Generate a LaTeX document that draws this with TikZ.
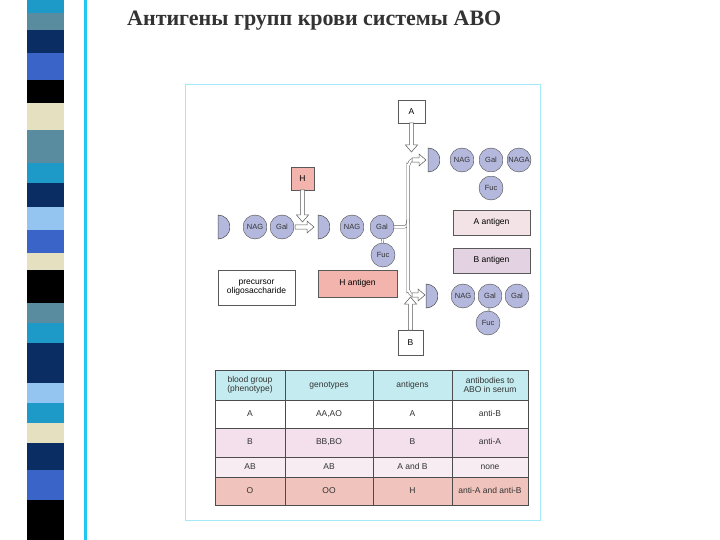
\documentclass[tikz,border=0pt]{standalone}
\usepackage{fontspec}
\setmainfont{Liberation Serif}
\newfontfamily\lsans{Liberation Sans}
\definecolor{cyanline}{HTML}{1EC8F0}
\definecolor{sug}{HTML}{B4B8DC}
\definecolor{salm}{HTML}{F2B4AC}
\definecolor{apink}{HTML}{F3E2E6}
\definecolor{blil}{HTML}{E2D2E2}
\definecolor{hdr}{HTML}{C4ECF0}
\definecolor{rowb}{HTML}{F4E0EC}
\definecolor{rowab}{HTML}{F6ECF2}
\definecolor{rowo}{HTML}{F0C4BC}
\definecolor{sA}{HTML}{1E9AC8}\definecolor{sG}{HTML}{5A8CA0}\definecolor{sN}{HTML}{0A2E64}
\definecolor{sB}{HTML}{3A64C8}\definecolor{sK}{HTML}{000000}\definecolor{sY}{HTML}{E4E0C0}
\definecolor{sL}{HTML}{94C4F0}
\newcommand\harr[3]{\draw[gray!70!black,fill=white,line width=0.5pt] (#1,#3-2.2) -- (#2-7,#3-2.2) -- (#2-7,#3-6) -- (#2,#3) -- (#2-7,#3+6) -- (#2-7,#3+2.2) -- (#1,#3+2.2) -- cycle;}
\newcommand\varr[3]{\draw[gray!70!black,fill=white,line width=0.5pt] (#3-2.2,#1) -- (#3-2.2,#2-7) -- (#3-6,#2-7) -- (#3,#2) -- (#3+6,#2-7) -- (#3+2.2,#2-7) -- (#3+2.2,#1) -- cycle;}
\newcommand\varrup[3]{\draw[gray!70!black,fill=white,line width=0.5pt] (#3-2.2,#1) -- (#3-2.2,#2+7) -- (#3-6,#2+7) -- (#3,#2) -- (#3+6,#2+7) -- (#3+2.2,#2+7) -- (#3+2.2,#1) -- cycle;}
\newcommand\half[3]{\draw[gray!60!black,fill=sug,line width=0.5pt] (#1,#2-#3) arc[start angle=-90,end angle=90,radius=#3] -- cycle;}
\begin{document}
\begin{tikzpicture}[x=1pt,y=-1pt,
 sugar/.style={circle,draw=gray!60!black,fill=sug,minimum size=24pt,inner sep=0pt,font=\lsans\fontsize{7.5}{7.5}\selectfont,text=black!80},
 box/.style={draw=gray!70!black,line width=0.5pt,font=\lsans\fontsize{8.5}{9.5}\selectfont,align=center,inner sep=0pt},
 bond/.style={draw=gray!60!black,double=white,double distance=1.2pt,line width=0.4pt},
 cell/.style={font=\lsans\fontsize{8.5}{9.5}\selectfont,align=center,text=black!80,text height=6.2pt,text depth=1.8pt,inner sep=0pt}]
\useasboundingbox (0,0) rectangle (720,540);
\fill[white] (0,0) rectangle (720,540);
% stripes
\foreach \a/\b/\c in {0/13/sA,13/30/sG,30/53/sN,53/80/sB,80/103/sK,103/130/sY,130/163/sG,163/183/sA,183/207/sN,207/230/sL,230/253/sB,253/270/sY,270/303/sK,303/323/sG,323/343/sA,343/383/sN,383/403/sL,403/423/sA,423/443/sY,443/470/sN,470/500/sB,500/540/sK}
  \fill[\c] (27,\a) rectangle (64,\b);
\fill[cyanline] (84,0) rectangle (87,540);
\node[font=\bfseries\fontsize{22}{24}\selectfont,text=black!80,anchor=west,inner sep=0pt] (title) at (127,21) {Антигены групп крови системы АВО};
% panel
\fill[white] (185,85) rectangle (540,520);
\draw[cyanline!40,line width=1pt] (185,85) rectangle (540,520);
% boxes
\node[box,minimum width=27pt,minimum height=23pt,fill=white] (Abox) at (411.5,111.5) {A};
\node[box,minimum width=25pt,minimum height=25pt,fill=white] (Bbox) at (410.5,342.5) {B};
\node[box,minimum width=23pt,minimum height=23pt,fill=salm] (Hbox) at (302.5,178.5) {H};
\node[box,minimum width=77pt,minimum height=35pt,fill=white] (prec) at (256.5,287.5) {precursor\\oligosaccharide};
\node[box,minimum width=79pt,minimum height=27pt,fill=salm] (hag) at (357.5,283.5) {H antigen};
\node[box,minimum width=77pt,minimum height=25pt,fill=apink] (aag) at (491.5,222.5) {A antigen};
\node[box,minimum width=77pt,minimum height=25pt,fill=blil] (bag) at (491.5,260.5) {B antigen};
% vertical trunk
\draw[gray!70!black,double=white,double distance=2pt,line width=0.5pt] (394,227) -- (404,227) to[out=0,in=-90] (408,220) -- (408,166) to[out=-90,in=180] (412,160) -- (414,160);
\draw[gray!70!black,double=white,double distance=2pt,line width=0.5pt] (408,220) -- (408,290) to[out=90,in=180] (412,295) -- (414,295);
% arrows
\varr{123}{152}{411.5}
\harr{412}{426}{160}
\varrup{330}{297}{410.5}
\harr{412}{425}{295}
\varr{190}{222}{302.5}
\harr{295}{314}{227}
% left chain
\half{218}{227}{12}
\node[sugar] (n1) at (255,227) {NAG};
\node[sugar] (g1) at (282,227) {Gal};
\draw[bond] (230,227) -- (n1); \draw[bond] (n1) -- (g1);
% middle chain
\half{318}{227}{12}
\node[sugar] (n2) at (352,227) {NAG};
\node[sugar] (g2) at (382,227) {Gal};
\node[sugar] (f2) at (383,255) {Fuc};
\draw[bond] (330,227) -- (n2); \draw[bond] (n2) -- (g2); \draw[bond] (g2) -- (f2);
% top chain
\half{428}{160}{12}
\node[sugar] (n3) at (462,160) {NAG};
\node[sugar] (g3) at (491,160) {Gal};
\node[sugar] (a3) at (519,160) {NAGA};
\node[sugar] (f3) at (491,188) {Fuc};
\draw[bond] (440,160) -- (n3); \draw[bond] (n3) -- (g3); \draw[bond] (g3) -- (a3); \draw[bond] (g3) -- (f3);
% bottom chain
\half{426}{296}{12}
\node[sugar] (n4) at (463,296) {NAG};
\node[sugar] (g4) at (490,296) {Gal};
\node[sugar] (h4) at (517,296) {Gal};
\node[sugar] (f4) at (488,323) {Fuc};
\draw[bond] (438,296) -- (n4); \draw[bond] (n4) -- (g4); \draw[bond] (g4) -- (h4); \draw[bond] (g4) -- (f4);
% table
\fill[hdr] (215,370) rectangle (528,400);
\fill[white] (215,400) rectangle (528,428);
\fill[rowb] (215,428) rectangle (528,457);
\fill[rowab] (215,457) rectangle (528,477);
\fill[rowo] (215,477) rectangle (528,505);
\draw[gray!60!black,line width=0.6pt] (215,370) rectangle (528,505);
\foreach \y in {400,428,457,477} \draw[gray!60!black,line width=0.5pt] (215,\y) -- (528,\y);
\foreach \x in {285,373,452} \draw[gray!60!black,line width=0.5pt] (\x,370) -- (\x,505);
\node[cell,text height=,text depth=] (h1) at (250,385) {blood group\\(phenotype)};
\node[cell] (h2) at (329,385) {genotypes};
\node[cell] (h3) at (412.5,385) {antigens};
\node[cell,text height=,text depth=] (h4) at (490,385) {antibodies to\\ABO in serum};
\foreach \r/\y/\p/\q/\s/\t in {1/414/A/{AA,AO}/A/anti-B, 2/442.5/B/{BB,BO}/B/anti-A, 3/467/AB/AB/A and B/none, 4/491/O/OO/H/anti-A and anti-B}{
 \node[cell] (r\r a) at (250,\y) {\p};
 \node[cell] (r\r b) at (329,\y) {\q};
 \node[cell] (r\r c) at (412.5,\y) {\s};
 \node[cell] (r\r d) at (490,\y) {\t};}
\end{tikzpicture}
\end{document}
